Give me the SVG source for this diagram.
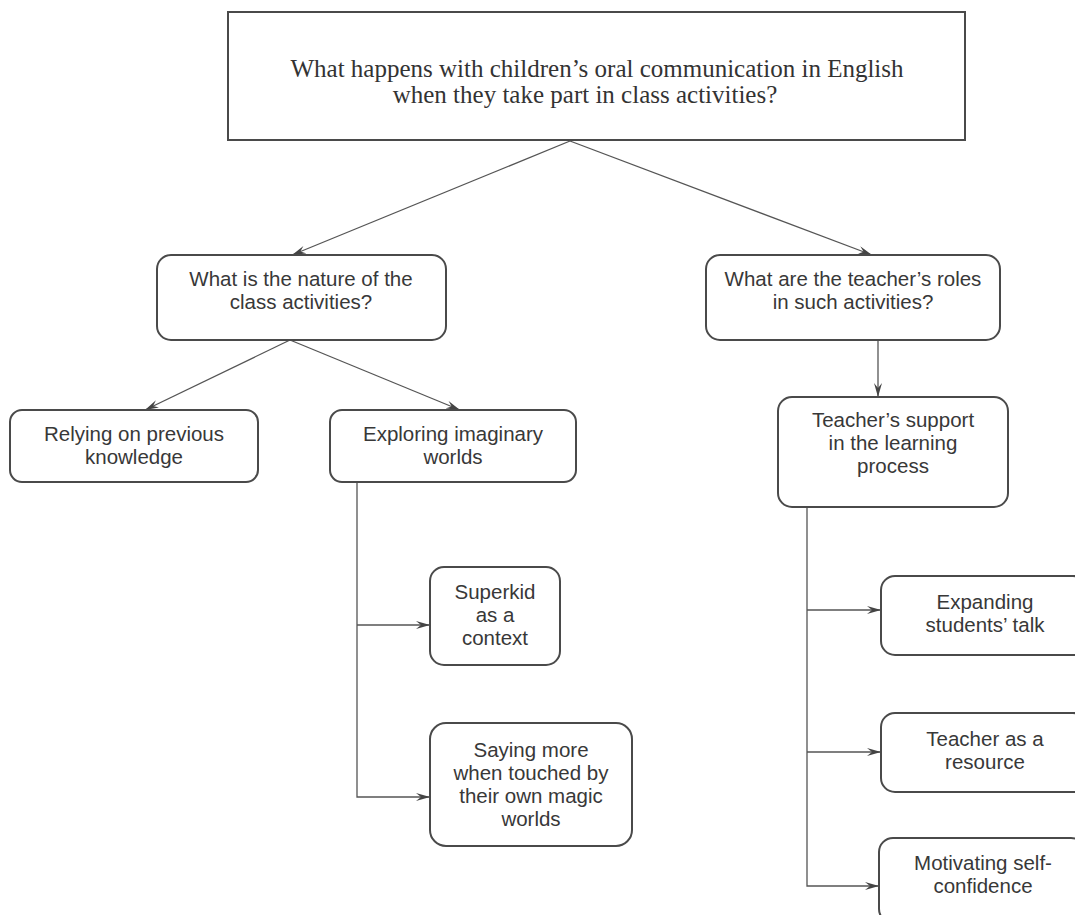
<svg xmlns="http://www.w3.org/2000/svg" width="1075" height="915" viewBox="0 0 1075 915">
<style>
.bg{fill:#ffffff}
.box{fill:#ffffff;stroke:#4a4a4a;stroke-width:2}
.t{font-family:"Liberation Sans",Arial,sans-serif;font-size:20.5px;fill:#383838;text-anchor:middle}
.ts{font-family:"Liberation Serif","Times New Roman",serif;font-size:25px;fill:#333;text-anchor:middle}
.c{fill:none;stroke:#555;stroke-width:1.3}
</style>
<defs>
<marker id="ar" viewBox="0 0 14 8" refX="14" refY="4" markerWidth="14" markerHeight="8" markerUnits="userSpaceOnUse" orient="auto">
<path d="M0,0 L14,4 L0,8 L5,4 z" fill="#444"/>
</marker>
</defs>
<rect class="bg" x="0" y="0" width="1075" height="915"/>
<g id="connectors">
<line class="c" x1="570" y1="141" x2="292" y2="255" marker-end="url(#ar)"/>
<line class="c" x1="570" y1="141" x2="872" y2="255" marker-end="url(#ar)"/>
<line class="c" x1="290" y1="340" x2="145" y2="410" marker-end="url(#ar)"/>
<line class="c" x1="290" y1="340" x2="460" y2="410" marker-end="url(#ar)"/>
<line class="c" x1="878" y1="340" x2="878" y2="397" marker-end="url(#ar)"/>
<polyline class="c" points="357,482 357,797 430,797" marker-end="url(#ar)"/>
<line class="c" x1="357" y1="625" x2="430" y2="625" marker-end="url(#ar)"/>
<polyline class="c" points="807,507 807,886 879,886" marker-end="url(#ar)"/>
<line class="c" x1="807" y1="610" x2="881" y2="610" marker-end="url(#ar)"/>
<line class="c" x1="807" y1="752" x2="881" y2="752" marker-end="url(#ar)"/>
</g>
<g id="n-question">
<rect class="box" x="228" y="12" width="737" height="128"/>
<text class="ts" x="597" y="77">What happens with children’s oral communication in English</text>
<text class="ts" x="585" y="103">when they take part in class activities?</text>
</g>
<g id="n-nature">
<rect class="box" x="157" y="255" width="289" height="85" rx="14"/>
<text class="t" x="301" y="286">What is the nature of the</text>
<text class="t" x="301" y="309">class activities?</text>
</g>
<g id="n-roles">
<rect class="box" x="706" y="255" width="294" height="85" rx="14"/>
<text class="t" x="853" y="286">What are the teacher’s roles</text>
<text class="t" x="853" y="309">in such activities?</text>
</g>
<g id="n-relying">
<rect class="box" x="10" y="410" width="248" height="72" rx="12"/>
<text class="t" x="134" y="441">Relying on previous</text>
<text class="t" x="134" y="464">knowledge</text>
</g>
<g id="n-exploring">
<rect class="box" x="330" y="410" width="246" height="72" rx="12"/>
<text class="t" x="453" y="441">Exploring imaginary</text>
<text class="t" x="453" y="464">worlds</text>
</g>
<g id="n-support">
<rect class="box" x="778" y="397" width="230" height="110" rx="14"/>
<text class="t" x="893" y="427">Teacher’s support</text>
<text class="t" x="893" y="450">in the learning</text>
<text class="t" x="893" y="473">process</text>
</g>
<g id="n-superkid">
<rect class="box" x="430" y="567" width="130" height="98" rx="14"/>
<text class="t" x="495" y="599">Superkid</text>
<text class="t" x="495" y="622">as a</text>
<text class="t" x="495" y="645">context</text>
</g>
<g id="n-saying">
<rect class="box" x="430" y="723" width="202" height="123" rx="16"/>
<text class="t" x="531" y="757">Saying more</text>
<text class="t" x="531" y="780">when touched by</text>
<text class="t" x="531" y="803">their own magic</text>
<text class="t" x="531" y="826">worlds</text>
</g>
<g id="n-expanding">
<rect class="box" x="881" y="576" width="206" height="79" rx="14"/>
<text class="t" x="985" y="609">Expanding</text>
<text class="t" x="985" y="632">students’ talk</text>
</g>
<g id="n-resource">
<rect class="box" x="881" y="713" width="206" height="79" rx="14"/>
<text class="t" x="985" y="746">Teacher as a</text>
<text class="t" x="985" y="769">resource</text>
</g>
<g id="n-motivating">
<rect class="box" x="879" y="838" width="206" height="85" rx="14"/>
<text class="t" x="983" y="870">Motivating self-</text>
<text class="t" x="983" y="893">confidence</text>
</g>
</svg>
